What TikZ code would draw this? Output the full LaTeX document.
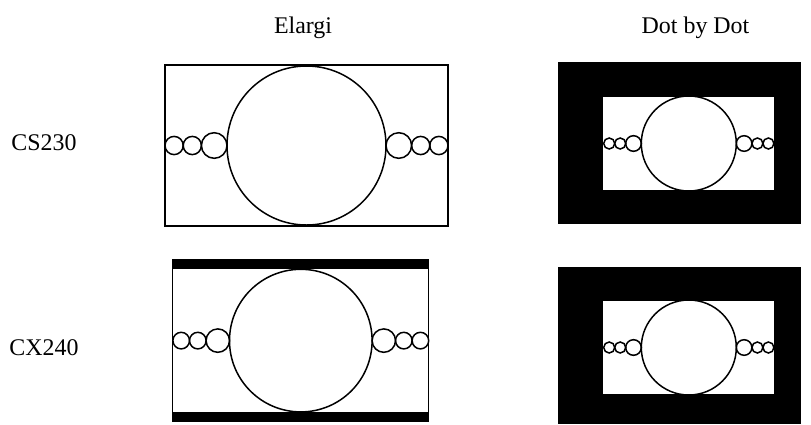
\documentclass[tikz,border=0pt]{standalone}
\usepackage{fontspec}
\setmainfont{Liberation Serif}
\usepackage{tikz}

\begin{document}
\begin{tikzpicture}[x=1bp, y=-1bp, line width=1.5bp, font=\fontsize{24}{29}\selectfont]
  \useasboundingbox (0,0) rectangle (811,424);
  % column and row labels
  \node[anchor=base] (elargi) at (303,33) {Elargi};
  \node[anchor=base] (dotbydot) at (695.5,33) {Dot by Dot};
  \node[anchor=base] (cs230) at (44,150.5) {CS230};
  \node[anchor=base] (cx240) at (44,355.5) {CX240};

  % screen frames
  \draw (165,65) rectangle (448,226);
  \fill (172.7,260) rectangle (428.7,421);
  \fill[white] (172.7,269) rectangle (428.7,412.3);
  \draw (172.7,260) rectangle (428.7,421);
  \foreach \yo/\yi/\yb/\yc in {62/96.7/190/224, 266.7/300.7/394.3/424} {
    \fill (558,\yo) rectangle (801,\yc);
    \fill[white] (603.3,\yi) rectangle (774.3,\yb);
  }

  % circles: big one, then medium and two small ones on each side
  \foreach \cx/\cy/\Rb/\Rm/\Rs in {306.5/145.5/79.5/12.8/9.1, 688.8/143.5/47.5/7.8/5.5,
                                   300.8/340.6/71.3/11.7/8.3, 688.8/347.5/47.5/7.8/5.5} {
    \draw (\cx,\cy) circle[radius=\Rb];
    \foreach \s in {-1,1} {
      \pgfmathsetmacro{\xm}{\cx+(\s)*(\Rb+\Rm)}
      \pgfmathsetmacro{\xa}{\cx+(\s)*(\Rb+2*\Rm+\Rs)}
      \pgfmathsetmacro{\xb}{\cx+(\s)*(\Rb+2*\Rm+3*\Rs)}
      \draw (\xm,\cy) circle[radius=\Rm];
      \draw (\xa,\cy) circle[radius=\Rs];
      \draw (\xb,\cy) circle[radius=\Rs];
    }
  }
\end{tikzpicture}
\end{document}
